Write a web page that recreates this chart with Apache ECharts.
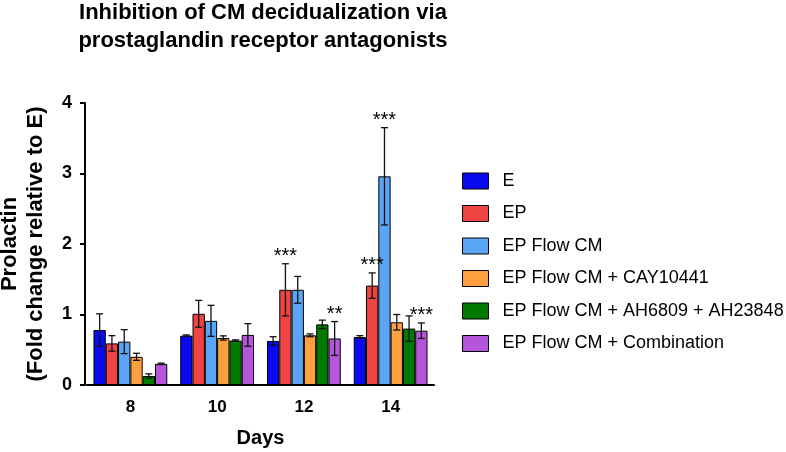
<!DOCTYPE html>
<html>
<head>
<meta charset="utf-8">
<script src="https://cdn.jsdelivr.net/npm/echarts@6/dist/echarts.min.js"></script>
<style>
html,body{margin:0;padding:0;background:#fff;}
#chart{width:786px;height:452px;}
</style>
</head>
<body>
<div id="chart"></div>
<script>
// ---- data ----
var days = ['8', '10', '12', '14'];
var seriesNames = ['E', 'EP', 'EP Flow CM', 'EP Flow CM + CAY10441', 'EP Flow CM + AH6809 + AH23848', 'EP Flow CM + Combination'];
var valE      = [0.78, 0.70, 0.625, 0.68];
var errE      = [0.23, 0.01, 0.06, 0.02];
var valEP     = [0.59, 1.01, 1.35, 1.41];
var errEP     = [0.11, 0.19, 0.37, 0.18];
var valFlow   = [0.615, 0.91, 1.35, 2.96];
var errFlow   = [0.17, 0.22, 0.19, 0.69];
var valCAY    = [0.40, 0.667, 0.705, 0.89];
var errCAY    = [0.05, 0.03, 0.02, 0.11];
var valAH     = [0.128, 0.63, 0.86, 0.80];
var errAH     = [0.03, 0.01, 0.06, 0.18];
var valCombo  = [0.30, 0.71, 0.66, 0.77];
var errCombo  = [0.01, 0.16, 0.24, 0.11];
var yTicks = [0, 1, 2, 3, 4];
// significance marks: [day index, series index, label]
var sigMarks = [[2, 1, '***'], [2, 5, '**'], [3, 1, '***'], [3, 2, '***'], [3, 5, '***']];

var allVals = [valE, valEP, valFlow, valCAY, valAH, valCombo];
var allErrs = [errE, errEP, errFlow, errCAY, errAH, errCombo];
var colors = ['#0a0af0', '#f04444', '#5aa6f5', '#ffa040', '#007a00', '#b455da'];

var FONT = '"Liberation Sans", Arial, sans-serif';
var BW = 12.3;

var chart = echarts.init(document.getElementById('chart'), null, {renderer: 'canvas'});

var series = [];
seriesNames.forEach(function (n, i) {
  series.push({
    name: n,
    type: 'bar',
    data: allVals[i],
    barWidth: BW,
    barGap: '0%',
    itemStyle: {color: colors[i], borderColor: '#000', borderWidth: 1},
    emphasis: {disabled: true},
    z: 2
  });
});

var errData = [];
for (var s = 0; s < allVals.length; s++) {
  for (var d = 0; d < days.length; d++) {
    errData.push([d, s, allVals[s][d], allErrs[s][d]]);
  }
}
series.push({
  type: 'custom',
  name: '__err',
  data: errData,
  encode: {x: 0, y: 2},
  z: 5,
  silent: true,
  renderItem: function (params, api) {
    var c = api.value(0), si = api.value(1), v = api.value(2), e = api.value(3);
    var p = api.coord([c, v]);
    var x = p[0] + (si - 2.5) * BW;
    var yt = api.coord([c, v + e])[1];
    var yb = api.coord([c, v - e])[1];
    var hw = 3.5;
    var st = {stroke: '#111', lineWidth: 1.3};
    return {
      type: 'group',
      children: [
        {type: 'line', shape: {x1: x, y1: yt, x2: x, y2: yb}, style: st},
        {type: 'line', shape: {x1: x - hw, y1: yt, x2: x + hw, y2: yt}, style: st},
        {type: 'line', shape: {x1: x - hw, y1: yb, x2: x + hw, y2: yb}, style: st}
      ]
    };
  }
});

var sigData = sigMarks.map(function (m) {
  return [m[0], m[1], allVals[m[1]][m[0]] + allErrs[m[1]][m[0]], m[2]];
});
series.push({
  type: 'custom',
  name: '__sig',
  data: sigData,
  encode: {x: 0, y: 2},
  z: 6,
  silent: true,
  renderItem: function (params, api) {
    var c = api.value(0), si = api.value(1), v = api.value(2);
    var p = api.coord([c, v]);
    var x = p[0] + (si - 2.5) * BW;
    return {
      type: 'text',
      style: {
        x: x, y: p[1] + 3,
        text: sigData[params.dataIndex][3],
        fill: '#000',
        font: '20px ' + FONT,
        textAlign: 'center',
        textVerticalAlign: 'bottom'
      }
    };
  }
});

var option = {
  backgroundColor: '#fff',
  animation: false,
  title: {
    text: 'Inhibition of CM decidualization via\nprostaglandin receptor antagonists',
    left: 258,
    top: -6,
    textAlign: 'center',
    textStyle: {fontFamily: FONT, fontWeight: 'bold', fontSize: 22, lineHeight: 28, color: '#000'}
  },
  legend: {
    orient: 'vertical',
    left: 457,
    top: 166,
    itemWidth: 26,
    itemHeight: 16,
    itemGap: 12.5,
    icon: 'rect',
    data: seriesNames,
    selectedMode: false,
    itemStyle: {borderColor: '#000', borderWidth: 1},
    textStyle: {fontFamily: FONT, fontSize: 18, color: '#000', lineHeight: 20, padding: [0, 0, 0, 9]}
  },
  grid: {left: 87, right: 352, top: 103, bottom: 67, containLabel: false, outerBoundsMode: 'none'},
  xAxis: {
    type: 'category',
    data: days,
    name: 'Days',
    nameLocation: 'middle',
    nameGap: 43,
    nameTextStyle: {fontFamily: FONT, fontWeight: 'bold', fontSize: 20, color: '#000'},
    axisLine: {lineStyle: {color: '#000', width: 2}},
    axisTick: {alignWithLabel: true, length: 8, lineStyle: {color: '#000', width: 2}},
    axisLabel: {fontFamily: FONT, fontWeight: 'bold', fontSize: 17, color: '#000', margin: 14},
    splitLine: {show: false}
  },
  yAxis: {
    type: 'value',
    min: yTicks[0],
    max: yTicks[yTicks.length - 1],
    interval: 1,
    offset: 2,
    name: 'Prolactin\n(Fold change relative to E)',
    nameLocation: 'middle',
    nameRotate: 90,
    nameGap: 36,
    nameTextStyle: {fontFamily: FONT, fontWeight: 'bold', fontSize: 22, lineHeight: 26, color: '#000'},
    axisLine: {show: true, lineStyle: {color: '#000', width: 2}},
    axisTick: {show: true, length: 5, lineStyle: {color: '#000', width: 2}},
    axisLabel: {fontFamily: FONT, fontWeight: 'bold', fontSize: 18, color: '#000', margin: 13},
    splitLine: {show: false}
  },
  series: series
};
chart.setOption(option);
</script>
</body>
</html>
